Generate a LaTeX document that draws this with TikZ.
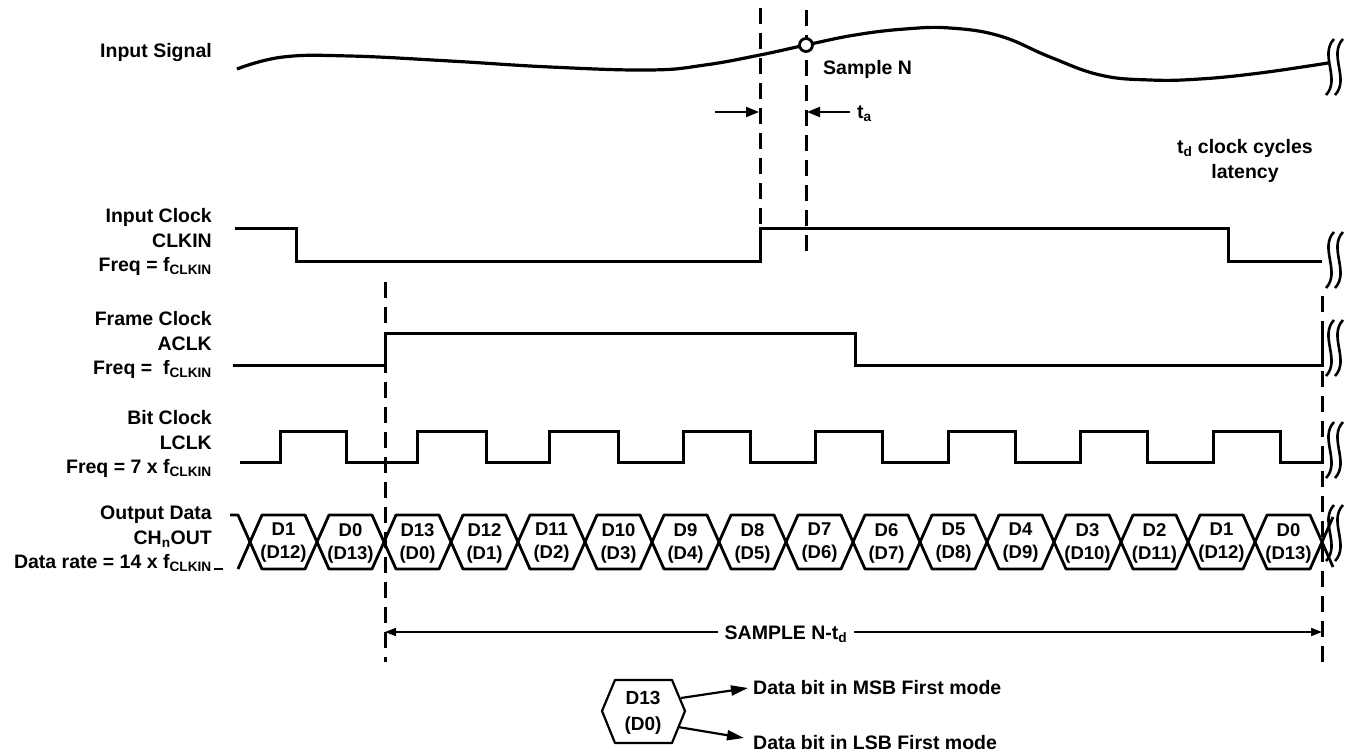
\documentclass[tikz,border=0pt]{standalone}
\usepackage{fontspec}
\setmainfont{Liberation Sans}
\usetikzlibrary{arrows.meta}
\newcommand\brkmk[2]{%
  \draw[brk] (#1+4,#2-28) .. controls (#1-11,#2-12) and (#1+11,#2+12) .. (#1-4,#2+28);
  \draw[brk] (#1+13,#2-28) .. controls (#1-2,#2-12) and (#1+20,#2+12) .. (#1+5,#2+28);}
\begin{document}
\begin{tikzpicture}[x=1pt,y=-1pt,
  sig/.style={line width=3pt, line join=miter},
  dsh/.style={line width=3pt, dash pattern=on 16pt off 9pt},
  lbl/.style={font=\fontsize{19.5}{24.5}\selectfont\bfseries, align=right, anchor=east, inner sep=0pt},
  txt/.style={font=\fontsize{19.5}{24.5}\selectfont\bfseries, inner sep=0pt},
  dlbl/.style={font=\fontsize{18.5}{23}\selectfont\bfseries, align=center, inner sep=0pt},
  brk/.style={line width=2.6pt},
  hexs/.style={line width=2.8pt, line join=round},
  tip/.style={-{Triangle[length=14pt,width=9pt]}, line width=2.2pt},
]
\useasboundingbox (0,0) rectangle (1345,752);

% ---------- labels ----------
\node[lbl] (lin) at (212,53) {Input Signal};
\node[lbl] (lclk) at (212,242) {Input Clock\\CLKIN\\Freq = f\textsubscript{CLKIN}};
\node[lbl] (lfr) at (212,345) {Frame Clock\\ACLK\\Freq = \ f\textsubscript{CLKIN}};
\node[lbl] (lbit) at (212,444) {Bit Clock\\LCLK\\Freq = 7 x f\textsubscript{CLKIN}};
\node[lbl] (lout) at (212,539) {Output Data\\CH\textsubscript{n}OUT\\Data rate = 14 x f\textsubscript{CLKIN}};
\draw[line width=2.6pt] (214,569) -- (223,569);

% ---------- dashed guides ----------
\draw[dsh] (760,8) -- (760,228);
\draw[dsh] (806,10) -- (806,252);
\draw[dsh] (385,282) -- (385,662);
\draw[dsh] (1322,296) -- (1322,662);

% ---------- input signal ----------
\draw[sig, line width=3.2pt] plot[smooth, tension=0.7] coordinates {(237,69) (283,57) (350,56) (450,61) (550,67) (650,70) (705,65) (760,55) (806,45) (855,35) (905,29) (950,28) (1000,36) (1050,57) (1100,75) (1150,80) (1200,79) (1260,73) (1328,63)};
\node[circle, draw, fill=white, line width=2.8pt, minimum size=13pt, inner sep=0pt] (smp) at (806,45) {};
\node[txt, anchor=west] (smpl) at (823,69) {Sample N};

% t_a
\coordinate (ta1) at (715,112);
\coordinate (ta2) at (850,112);
\coordinate (ta1e) at (759,112);
\coordinate (ta2e) at (807,112);
\draw[tip, -{Triangle[length=13pt,width=10pt]}] (ta1) -- (ta1e);
\draw[tip, -{Triangle[length=13pt,width=10pt]}] (ta2) -- (ta2e);
\node[txt, anchor=west] (tal) at (857,114) {t\textsubscript{a}};

\node[txt, align=center] (lat) at (1245,161) {t\textsubscript{d} clock cycles\\latency};

% ---------- CLKIN ----------
\draw[sig] (235,228) -- (296,228) -- (296,261) -- (760,261) -- (760,228) -- (1228,228) -- (1228,261) -- (1322,261);

% ---------- ACLK ----------
\draw[sig] (233,365) -- (385,365) -- (385,333) -- (855,333) -- (855,365) -- (1322,365) -- (1322,333);

% ---------- LCLK ----------
\draw[sig] (240,462)
  -- (280,462) -- (280,431) -- (346,431) -- (346,462)
  -- (417,462) -- (417,431) -- (486,431) -- (486,462)
  -- (549,462) -- (549,431) -- (618,431) -- (618,462)
  -- (683,462) -- (683,431) -- (750,431) -- (750,462)
  -- (815,462) -- (815,431) -- (882,431) -- (882,462)
  -- (948,462) -- (948,431) -- (1015,431) -- (1015,462)
  -- (1080,462) -- (1080,431) -- (1147,431) -- (1147,462)
  -- (1213,462) -- (1213,431) -- (1280,431) -- (1280,462)
  -- (1324,462);

% ---------- data ----------
\draw[hexs] (230,515) -- (238,515) -- (250,542);
\draw[hexs] (238,569) -- (250,542);
\foreach \a/\b/\u/\l [count=\i] in {250/317/D1/D12, 317/384/D0/D13, 384/451/D13/D0, 451/518/D12/D1, 518/585/D11/D2, 585/652/D10/D3, 652/719/D9/D4, 719/786/D8/D5, 786/853/D7/D6, 853/920/D6/D7, 920/987/D5/D8, 987/1054/D4/D9, 1054/1121/D3/D10, 1121/1188/D2/D11, 1188/1255/D1/D12, 1255/1322/D0/D13}{
  \draw[hexs] (\a,542) -- (\a+12,515) -- (\b-12,515) -- (\b,542) -- (\b-12,569) -- (\a+12,569) -- cycle;
  \node[dlbl] (d\i) at ({(\a+\b)/2},543) {\u\\(\l)};
}
\draw[hexs] (1322,542) -- (1333,517);
\draw[hexs] (1322,542) -- (1333,567);

% ---------- break marks ----------
\brkmk{1330}{67}
\brkmk{1330}{260}
\brkmk{1330}{348}
\brkmk{1330}{450}
\brkmk{1330}{533}

% ---------- SAMPLE N-td ----------
\coordinate (sa) at (385,632);
\coordinate (sb) at (1322,632);
\draw[line width=1.8pt, {Triangle[length=11pt,width=8pt]}-{Triangle[length=11pt,width=8pt]}] (sa) -- (sb);
\node[txt, fill=white, inner xsep=7pt, inner ysep=3pt] (smpn) at (786,634) {SAMPLE N-t\textsubscript{d}};

% ---------- legend ----------
\draw[line width=2.2pt, line join=round] (602,711) -- (615,680) -- (672,680) -- (685,711) -- (672,743) -- (615,743) -- cycle;
\node[dlbl, font=\fontsize{19}{26}\selectfont\bfseries] (leg) at (643,713) {D13\\(D0)};
\node[txt, anchor=west] (msb) at (753,688) {Data bit in MSB First mode};
\node[txt, anchor=west] (lsb) at (753,743) {Data bit in LSB First mode};
\coordinate (la) at (681,698);
\coordinate (lb) at (678,727);
\draw[tip, -{Triangle[length=17pt,width=10pt]}] (la) -- ([xshift=-5pt]msb.west);
\draw[tip, -{Triangle[length=17pt,width=10pt]}] (lb) -- ([xshift=-9pt,yshift=5pt]lsb.west);
\end{tikzpicture}
\end{document}
